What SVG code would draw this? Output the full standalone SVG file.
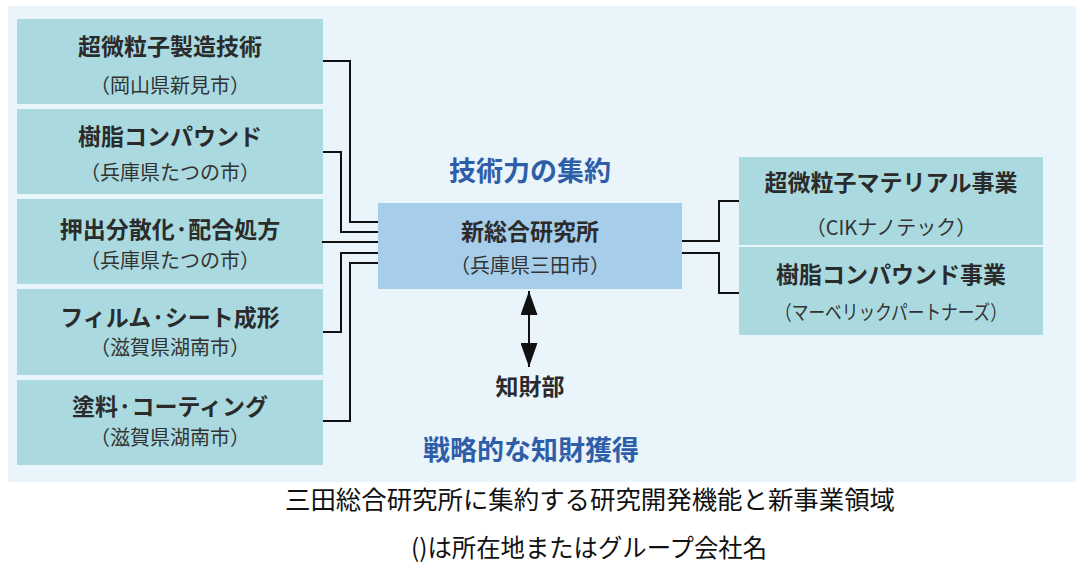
<svg xmlns="http://www.w3.org/2000/svg" width="1081" height="566" viewBox="0 0 1081 566">
<defs>
<style>
text{font-family:"Noto Sans CJK JP","Noto Sans",sans-serif;text-anchor:middle}
.box{fill:#aadadf}
.hub{fill:#a6cde9}
.t{font-size:23px;font-weight:bold;fill:#2b2b2b}
.s{font-size:20px;fill:#333}
.blue{font-size:27px;font-weight:bold;fill:#2f5ea8}
.cap{font-size:25px;fill:#111}
.con{fill:none;stroke:#111;stroke-width:2}
</style>
<marker id="ah" viewBox="0 0 24 17" refX="24" refY="8.5" markerWidth="24" markerHeight="17" markerUnits="userSpaceOnUse" orient="auto-start-reverse">
<path d="M0,0 L24,8.5 L0,17 z" fill="#111"/>
</marker>
</defs>
<rect x="0" y="0" width="1081" height="566" fill="#ffffff"/>
<rect x="8" y="6" width="1068" height="476" fill="#eaf4fb"/>

<g id="node-particle">
<rect class="box" x="17" y="19" width="306" height="85"/>
<text class="t" x="170" y="55">超微粒子製造技術</text>
<text class="s" x="170" y="93">（岡山県新見市）</text>
</g>
<g id="node-resin">
<rect class="box" x="17" y="109" width="306" height="85"/>
<text class="t" x="170" y="145">樹脂コンパウンド</text>
<text class="s" x="170" y="180">（兵庫県たつの市）</text>
</g>
<g id="node-extrusion">
<rect class="box" x="17" y="199" width="306" height="85"/>
<text class="t" x="170" y="238">押出分散化·配合処方</text>
<text class="s" x="170" y="268">（兵庫県たつの市）</text>
</g>
<g id="node-film">
<rect class="box" x="17" y="289" width="306" height="86"/>
<text class="t" x="170" y="326">フィルム·シート成形</text>
<text class="s" x="170" y="355">（滋賀県湖南市）</text>
</g>
<g id="node-coating">
<rect class="box" x="17" y="380" width="306" height="85"/>
<text class="t" x="170" y="415">塗料·コーティング</text>
<text class="s" x="170" y="445">（滋賀県湖南市）</text>
</g>

<g id="node-center">
<rect class="hub" x="378" y="203" width="304" height="86"/>
<text class="t" x="530" y="240">新総合研究所</text>
<text class="s" x="530" y="273">（兵庫県三田市）</text>
</g>

<g id="node-nano">
<rect class="box" x="739" y="157" width="304" height="88"/>
<text class="t" x="891" y="191">超微粒子マテリアル事業</text>
<text class="s" x="891" y="235">（CIKナノテック）</text>
</g>
<g id="node-compound">
<rect class="box" x="739" y="247" width="304" height="88"/>
<text class="t" x="891" y="283">樹脂コンパウンド事業</text>
<text class="s" x="891" y="320" textLength="232" lengthAdjust="spacingAndGlyphs">（マーベリックパートナーズ）</text>
</g>

<g id="node-ip">
<text class="t" x="530" y="395">知財部</text>
</g>

<g id="labels">
<text class="blue" x="530" y="181">技術力の集約</text>
<text class="blue" x="531" y="460">戦略的な知財獲得</text>
</g>

<g id="connectors">
<polyline class="con" points="323,61 350,61 350,222 378,222"/>
<polyline class="con" points="323,152 341,152 341,232 378,232"/>
<polyline class="con" points="322,242 378,242"/>
<polyline class="con" points="323,332 341,332 341,253 378,253"/>
<polyline class="con" points="323,421 350,421 350,263 378,263"/>
<polyline class="con" points="682,241 719,241 719,201 739,201"/>
<polyline class="con" points="682,253 719,253 719,293 739,293"/>
<line class="con" x1="529" y1="291" x2="529" y2="367" stroke-width="2.5" marker-start="url(#ah)" marker-end="url(#ah)"/>
</g>

<g id="caption">
<text class="cap" x="590" y="509" textLength="610" lengthAdjust="spacingAndGlyphs">三田総合研究所に集約する研究開発機能と新事業領域</text>
<text class="cap" x="589" y="557" textLength="356" lengthAdjust="spacingAndGlyphs">()は所在地またはグループ会社名</text>
</g>
</svg>
